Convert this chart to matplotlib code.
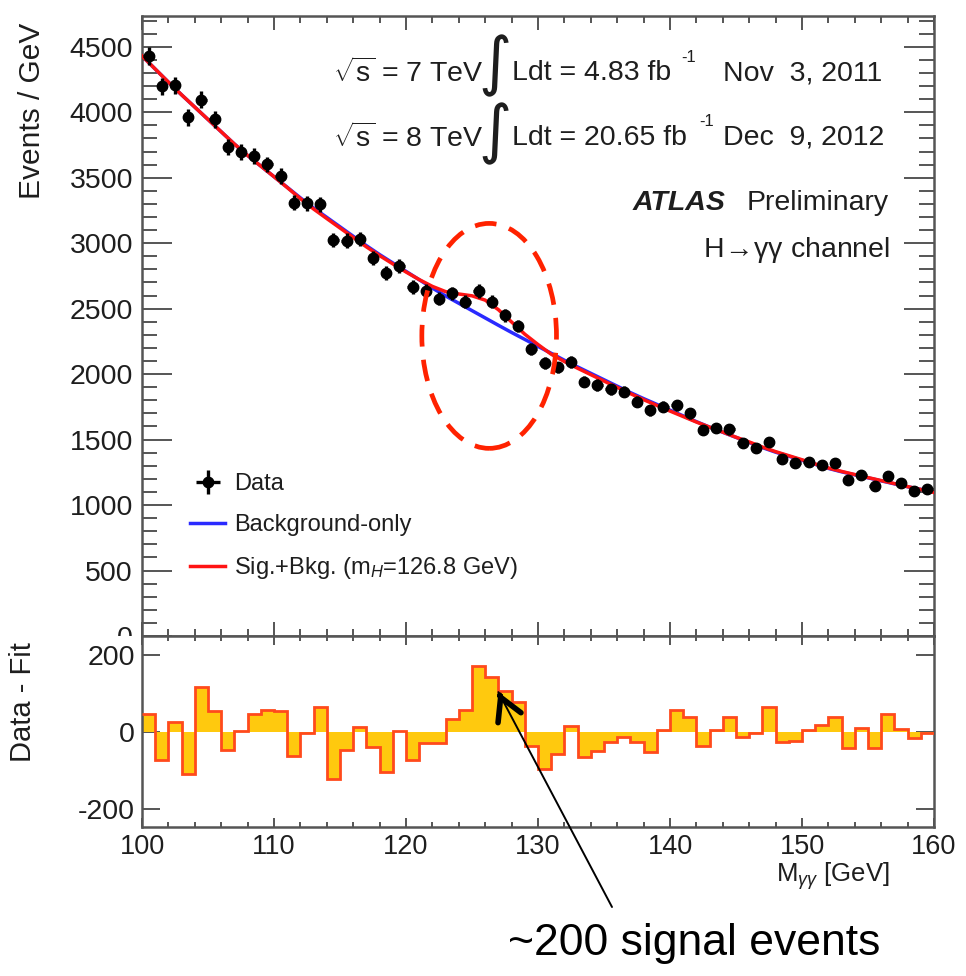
import numpy as np
import matplotlib
matplotlib.use("Agg")
import matplotlib.pyplot as plt
from matplotlib.patches import Ellipse, Rectangle
from matplotlib.ticker import MultipleLocator, FixedLocator

plt.rcParams["font.family"] = ["Liberation Sans", "DejaVu Sans"]
plt.rcParams["mathtext.fontset"] = "custom"
plt.rcParams["mathtext.rm"] = "Liberation Sans"
plt.rcParams["mathtext.it"] = "Liberation Sans:italic"
plt.rcParams["mathtext.bf"] = "Liberation Sans:bold"
plt.rcParams["axes.unicode_minus"] = False

# ---- data -----------------------------------------------------------------
mass_low, mass_high, bin_width = 100, 160, 1

# diphoton events per 1 GeV bin (100-101, 101-102, ..., 159-160)
events = [4428, 4199, 4206, 3960, 4097, 3945, 3736, 3697, 3667, 3601,
          3514, 3308, 3306, 3298, 3025, 3020, 3030, 2890, 2770, 2825,
          2665, 2638, 2575, 2616, 2552, 2636, 2552, 2451, 2367, 2190,
          2082, 2051, 2094, 1942, 1916, 1883, 1866, 1790, 1725, 1751,
          1763, 1700, 1573, 1590, 1578, 1471, 1438, 1484, 1349, 1318,
          1331, 1305, 1318, 1191, 1229, 1145, 1221, 1166, 1110, 1120]

# data minus background-only fit, per bin
residuals = [45, -74, 26, -109, 117, 54, -48, 3, 45, 56,
             55, -63, -4, 65, -124, -48, 13, -41, -104, 2,
             -74, -30, -30, 32, 56, 172, 143, 106, 76, -37,
             -97, -57, 15, -65, -50, -26, -13, -26, -52, 4,
             57, 37, -37, 4, 37, -13, -4, 63, -26, -23,
             4, 17, 37, -42, 9, -42, 45, 6, -17, -4]

# fitted curves sampled at every GeV from 100 to 160
bkg_fit = [4430, 4330, 4230, 4133, 4039, 3945, 3851, 3757, 3670, 3589,
           3508, 3427, 3346, 3269, 3197, 3125, 3053, 2981, 2913, 2849,
           2785, 2721, 2657, 2597, 2541, 2485, 2429, 2373, 2318, 2265,
           2212, 2159, 2106, 2055, 2006, 1957, 1908, 1859, 1813, 1769,
           1725, 1681, 1637, 1595, 1556, 1517, 1478, 1439, 1404, 1373,
           1342, 1311, 1280, 1254, 1231, 1208, 1185, 1162, 1140, 1120, 1100]

sigbkg_fit = [4430, 4330, 4230, 4133, 4039, 3945, 3851, 3757, 3670, 3589,
              3508, 3425, 3340, 3261, 3188, 3116, 3044, 2972, 2905, 2842,
              2780, 2722, 2670, 2630, 2612, 2598, 2565, 2492, 2398, 2305,
              2226, 2152, 2096, 2045, 1996, 1947, 1899, 1851, 1805, 1761,
              1718, 1676, 1634, 1595, 1557, 1518, 1482, 1443, 1408, 1377,
              1346, 1314, 1283, 1257, 1233, 1210, 1187, 1164, 1141, 1119, 1096]

legend_labels = ["Data", "Background-only", "Sig.+Bkg. (m$_{H}$=126.8 GeV)"]
x_ticks = [100, 110, 120, 130, 140, 150, 160]
y_ticks = [0, 500, 1000, 1500, 2000, 2500, 3000, 3500, 4000, 4500]
res_ticks = [-200, 0, 200]

edges = np.arange(mass_low, mass_high + bin_width, bin_width)
centers = edges[:-1] + bin_width / 2
curve_mass = np.arange(mass_low, mass_high + 1, 1)

# ---- figure layout (pixel based) -------------------------------------------
W, H = 966, 976
fig = plt.figure(figsize=(W / 100, H / 100), dpi=100)


def fx(x):
    return x / W


def fy(y):
    return 1 - y / H


L, R, T, MID, B = 142, 934, 16, 636, 827
ax = fig.add_axes([fx(L), fy(MID), fx(R) - fx(L), fy(T) - fy(MID)], zorder=0)
axr = fig.add_axes([fx(L), fy(B), fx(R) - fx(L), fy(MID) - fy(B)], zorder=1)

TXT = "#1e1e1e"
SPINE = "#555555"

# ---- main panel ------------------------------------------------------------
blue, = ax.plot(curve_mass, bkg_fit, color="#2a2aff", lw=2.5, zorder=2)
red, = ax.plot(curve_mass, sigbkg_fit, color="#ff1414", lw=2.5, zorder=3)
data = ax.errorbar(centers, events, yerr=np.sqrt(events), xerr=0.4,
                   fmt="o", ms=7.5, color="black", elinewidth=2.4, capsize=0,
                   zorder=4)

ax.add_patch(Ellipse((126.3, 2292), width=10.2, height=1718, fill=False,
                     ec="#ff2200", lw=3.4, ls=(0, (4.6, 2.8)), zorder=5))

ax.set_xlim(mass_low, mass_high)
ax.set_ylim(0, 4735)
ax.xaxis.set_major_locator(FixedLocator(x_ticks))
ax.xaxis.set_minor_locator(MultipleLocator(2))
ax.yaxis.set_major_locator(FixedLocator(y_ticks))
ax.yaxis.set_minor_locator(MultipleLocator(100))
ax.tick_params(axis="x", labelbottom=False)

ax.set_ylabel("Events / GeV", fontsize=21.5, color=TXT, loc="top")
ax.yaxis.set_label_coords(-0.121, 0.989)

ax.legend([data, blue, red], legend_labels, loc="upper left",
          bbox_to_anchor=((190 - L) / (R - L), (MID - 473) / (MID - T)),
          frameon=False, fontsize=17, borderpad=0, borderaxespad=0,
          handlelength=1.5, handletextpad=0.35, labelspacing=0.8,
          labelcolor=TXT)

# ---- residual panel --------------------------------------------------------
axr.stairs(residuals, edges, baseline=0, fill=True, color="#ffc90e",
           zorder=2)
axr.stairs(residuals, edges, baseline=None, color="#ff4a1c", lw=2.0,
           zorder=3)
axr.set_xlim(mass_low, mass_high)
axr.set_ylim(-248, 249)
axr.xaxis.set_major_locator(FixedLocator(x_ticks))
axr.xaxis.set_minor_locator(MultipleLocator(2))
axr.yaxis.set_major_locator(FixedLocator(res_ticks))
axr.yaxis.set_minor_locator(FixedLocator([]))

axr.set_ylabel("Data - Fit", fontsize=21, color=TXT, loc="top")
axr.yaxis.set_label_coords(-0.1326, 0.969)
axr.set_xlabel(r"M$_{\gamma\gamma}$ [GeV]", fontsize=18.5, color=TXT,
               loc="right")
axr.xaxis.set_label_coords((890 - L) / (R - L), (B - 876) / (B - MID))
axr.xaxis.label.set_va("center")

# ---- ticks and frames ------------------------------------------------------
for a in (ax, axr):
    a.tick_params(which="both", direction="in", top=True, right=True,
                  color=SPINE, labelcolor=TXT, labelsize=19.5, width=1.4)
    for s in a.spines.values():
        s.set_color(SPINE)
        s.set_linewidth(1.8)
    a.set_facecolor("white")

ax.tick_params(axis="y", which="major", length=21.6, pad=6.5, labelsize=20.5)
ax.tick_params(axis="y", which="minor", length=10.8)
ax.tick_params(axis="x", which="major", length=10)
ax.tick_params(axis="x", which="minor", length=5)
axr.tick_params(axis="y", which="major", length=13, pad=5, labelsize=20.5)
axr.tick_params(axis="x", which="major", length=6.5, pad=5)
axr.tick_params(axis="x", which="minor", length=3.6)

# the lower pad hides the bottom half of the "0" label of the upper pad
fig.add_artist(Rectangle((0, 0), fx(L - 1), fy(MID), transform=fig.transFigure,
                         facecolor="white", edgecolor="none", zorder=0.5))

# ---- header texts ----------------------------------------------------------
def ptext(x, y, s, **kw):
    kw.setdefault("fontsize", 20.5)
    kw.setdefault("color", TXT)
    kw.setdefault("va", "center")
    kw.setdefault("ha", "left")
    fig.text(fx(x), fy(y), s, **kw)


ptext(333, 73, r"$\sqrt{\mathrm{s}}$ = 7 TeV")
ptext(333, 138, r"$\sqrt{\mathrm{s}}$ = 8 TeV")
ptext(478, 66, "\u222b", fontsize=46, family="DejaVu Sans")
ptext(478, 134, "\u222b", fontsize=46, family="DejaVu Sans")
ptext(512, 73, "Ldt = 4.83 fb")
ptext(681, 58, "-1", fontsize=12)
ptext(723, 73, "Nov  3, 2011")
ptext(512, 138, "Ldt = 20.65 fb")
ptext(699, 122, "-1", fontsize=12)
ptext(723, 138, "Dec  9, 2012")
ptext(633, 203, "ATLAS", fontweight="bold", style="italic")
ptext(747, 203, "Preliminary")
ptext(703, 250, "H$\\!\\rightarrow\\!$\u03b3\u03b3 channel")

# ---- call-out --------------------------------------------------------------
tip = (127.0, 103)
tail_px = (612, 907)
axr.annotate("", xy=tip, xycoords="data",
             xytext=(fx(tail_px[0]), fy(tail_px[1])),
             textcoords="figure fraction", annotation_clip=False,
             arrowprops=dict(arrowstyle="-", color="black", lw=1.4,
                             shrinkA=0, shrinkB=0))
axr.annotate("", xy=tip, xycoords="data",
             xytext=(fx(498 + 0.47 * 4), fy(692 + 0.88 * 4)),
             textcoords="figure fraction", annotation_clip=False,
             arrowprops=dict(arrowstyle="->, head_length=0.8, head_width=0.45",
                             mutation_scale=20, color="black", lw=4,
                             shrinkA=0, shrinkB=0))
fig.text(fx(694), fy(943), "~200 signal events", fontsize=32, color="black",
         ha="center", va="center", family=["Liberation Sans", "DejaVu Sans"])

fig.savefig("out.png", dpi=100, facecolor="white")
